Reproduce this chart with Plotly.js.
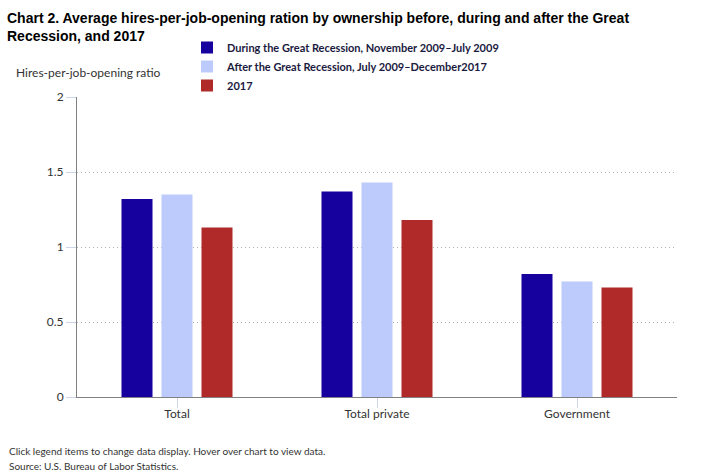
<!DOCTYPE html>
<html>
<head>
<meta charset="utf-8">
<script src="https://cdn.plot.ly/plotly-3.0.1.min.js"></script>
<style>html,body{margin:0;padding:0;background:#fff;}#chart{width:701px;height:475px;}</style>
</head>
<body>
<div id="chart"></div>
<script>
const categories = ["Total", "Total private", "Government"];
const seriesNames = [
  "During the Great Recession, November 2009\u2013July 2009",
  "After the Great Recession, July 2009\u2013December2017",
  "2017"
];
const duringValues = [1.32, 1.37, 0.82];
const afterValues = [1.35, 1.43, 0.77];
const values2017 = [1.13, 1.18, 0.73];
const yTicks = [0, 0.5, 1, 1.5, 2];
const yTickLabels = ["0", "0.5", "1", "1.5", "2"];
const colors = ["#16009e", "#bccbfb", "#b02a2a"];

const FONT = "Lato, 'Open Sans', sans-serif";
const allValues = [duringValues, afterValues, values2017];
const data = allValues.map((v, i) => ({
  type: "bar",
  name: seriesNames[i],
  x: categories,
  y: v,
  marker: {color: colors[i], line: {width: 0}},
  hovertemplate: "%{x}<br>" + seriesNames[i] + ": %{y}<extra></extra>"
}));

const layout = {
  width: 701,
  height: 475,
  margin: {l: 77, r: 24, t: 97, b: 78},
  paper_bgcolor: "#ffffff",
  plot_bgcolor: "#ffffff",
  font: {family: FONT, size: 12, color: "#333333"},
  title: {
    text: "Chart 2. Average hires-per-job-opening ration by ownership before, during and after the Great<br>Recession, and 2017",
    font: {family: "'Liberation Sans', Arial, sans-serif", size: 14, color: "#000000", weight: "bold"},
    x: 7 / 701, xref: "container", xanchor: "left",
    y: 1 - 23 / 475, yref: "container", yanchor: "top"
  },
  barmode: "group",
  bargap: 0.4,
  bargroupgap: 0.225,
  showlegend: true,
  legend: {
    orientation: "v",
    x: (187 - 77) / 600, xanchor: "left",
    y: 1 + 64 / 300, yanchor: "top",
    font: {family: FONT, size: 11, color: "#1a1a40", weight: "bold"},
    tracegroupgap: 0,
    itemclick: "toggle",
    bgcolor: "rgba(0,0,0,0)"
  },
  xaxis: {
    type: "category",
    range: [-0.5, 2.5],
    showline: true, linecolor: "#808080", linewidth: 1,
    ticks: "outside", ticklen: 10, tickcolor: "#ccd6eb", tickwidth: 1,
    ticklabelstandoff: -4,
    tickfont: {family: FONT, size: 12, color: "#333333"},
    showgrid: false, zeroline: false,
    fixedrange: true
  },
  yaxis: {
    range: [0, 2],
    tickvals: yTicks, ticktext: yTickLabels,
    showline: true, linecolor: "#808080", linewidth: 1,
    ticks: "outside", ticklen: 10, tickcolor: "#ccd6eb", tickwidth: 1,
    tickfont: {family: FONT, size: 12, color: "#333333"},
    showgrid: true, gridcolor: "#b0b0b0", griddash: "1px,3px", gridwidth: 1,
    zeroline: false,
    fixedrange: true
  },
  annotations: [
    {text: "Hires-per-job-opening ratio", xref: "paper", yref: "paper",
     x: (14 - 77) / 600, y: 1 + (97 - 73) / 300, xanchor: "left", yanchor: "middle",
     showarrow: false, font: {family: FONT, size: 12, color: "#333333"}},
    {text: "Click legend items to change data display. Hover over chart to view data.", xref: "paper", yref: "paper",
     x: (7 - 77) / 600, y: -(451 - 397) / 300, xanchor: "left", yanchor: "middle",
     showarrow: false, font: {family: FONT, size: 10, color: "#333333"}},
    {text: "Source: U.S. Bureau of Labor Statistics.", xref: "paper", yref: "paper",
     x: (7 - 77) / 600, y: -(466 - 397) / 300, xanchor: "left", yanchor: "middle",
     showarrow: false, font: {family: FONT, size: 10, color: "#333333"}}
  ]
};

Plotly.newPlot("chart", data, layout, {displayModeBar: false, responsive: false});
</script>
</body>
</html>
